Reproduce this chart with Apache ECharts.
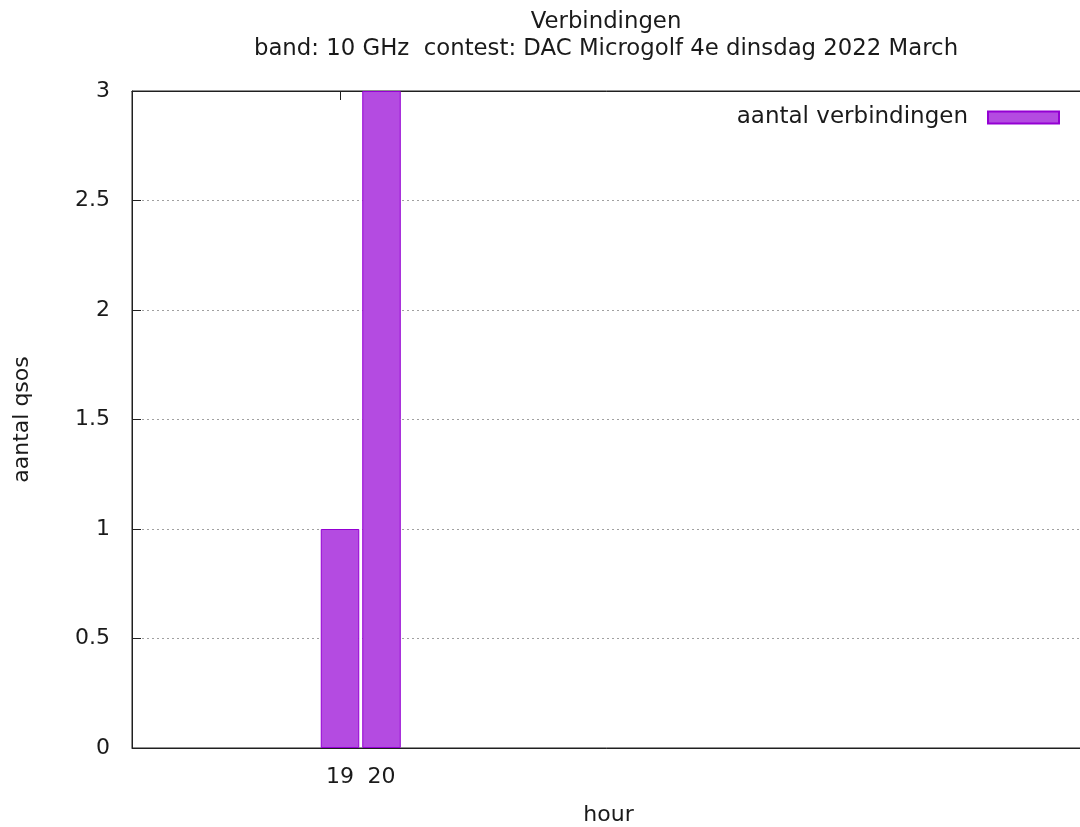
<!DOCTYPE html>
<html>
<head>
<meta charset="utf-8">
<script src="https://cdn.jsdelivr.net/npm/echarts@6/dist/echarts.min.js"></script>
<style>
html,body{margin:0;padding:0;background:#fff;}
#chart{width:1080px;height:827px;}
</style>
</head>
<body>
<div id="chart"></div>
<script>
var hours = [19, 20];
var counts = [1, 3];
var xTickValues = [19, 20];
var yTickValues = [0, 0.5, 1, 1.5, 2, 2.5, 3];
var titleText = 'Verbindingen';
var subtitleText = 'band: 10 GHz  contest: DAC Microgolf 4e dinsdag 2022 March';
var seriesName = 'aantal verbindingen';
var xName = 'hour';
var yName = 'aantal qsos';

var FONT = 'DejaVu Sans';
var FS = 22;
var FST = 23;
var chart = echarts.init(document.getElementById('chart'), null, {renderer: 'canvas'});
var xmin = 13.988, xmax = 36.95;
var option = {
  animation: false,
  backgroundColor: '#ffffff',
  textStyle: {fontFamily: FONT},
  title: {
    text: titleText + '\n' + subtitleText,
    left: 601, top: 4, textAlign: 'center',
    textStyle: {fontFamily: FONT, fontSize: 22.8, fontWeight: 'normal', color: '#1a1a1a', lineHeight: 27}
  },
  legend: {
    show: true,
    right: 15, top: 101,
    align: 'right',
    itemWidth: 71, itemHeight: 12, itemGap: 0,
    textStyle: {fontFamily: FONT, fontSize: FST, color: '#1a1a1a', padding: [0, 15, 0, 0]},
    data: [{name: seriesName, icon: 'rect'}]
  },
  grid: {
    left: 132, right: -5, top: 91, bottom: 79,
    outerBoundsMode: 'none',
    containLabel: false,
    show: true, borderColor: '#202020', borderWidth: 1, backgroundColor: 'transparent'
  },
  xAxis: [{
    type: 'value', min: xmin, max: xmax,
    name: xName, nameLocation: 'middle', nameGap: 56,
    nameTextStyle: {fontFamily: FONT, fontSize: FS, color: '#1a1a1a'},
    axisLine: {show: true, onZero: false, lineStyle: {color: '#202020', width: 1}},
    axisTick: {show: true, inside: true, length: 9, customValues: xTickValues, lineStyle: {color: '#202020'}},
    axisLabel: {show: true, customValues: xTickValues, fontFamily: FONT, fontSize: FS, color: '#1a1a1a', margin: 18},
    splitLine: {show: false}
  }, {
    type: 'value', min: xmin, max: xmax, position: 'top',
    axisLine: {show: true, onZero: false, lineStyle: {color: '#202020', width: 1}},
    axisTick: {show: true, inside: true, length: 9, customValues: xTickValues, lineStyle: {color: '#202020'}},
    axisLabel: {show: false},
    splitLine: {show: false}
  }],
  yAxis: {
    type: 'value', min: 0, max: 3, interval: 0.5,
    name: yName, nameLocation: 'middle', nameGap: 99, nameRotate: 90,
    nameTextStyle: {fontFamily: FONT, fontSize: FS, color: '#1a1a1a'},
    axisLine: {show: true, lineStyle: {color: '#202020', width: 1}},
    axisTick: {show: true, inside: true, length: 9, lineStyle: {color: '#202020'}},
    axisLabel: {fontFamily: FONT, fontSize: FS, color: '#1a1a1a', margin: 22},
    splitLine: {show: true, lineStyle: {color: '#a0a0a0', type: [2, 3], width: 1}}
  },
  series: [{
    name: seriesName,
    type: 'bar',
    xAxisIndex: 0,
    barWidth: 38.5,
    data: hours.map(function (h, i) { return [h, counts[i]]; }),
    itemStyle: {color: '#b44be1', borderColor: '#9400d3', borderWidth: 1}
  }]
};
chart.setOption(option);
</script>
</body>
</html>
